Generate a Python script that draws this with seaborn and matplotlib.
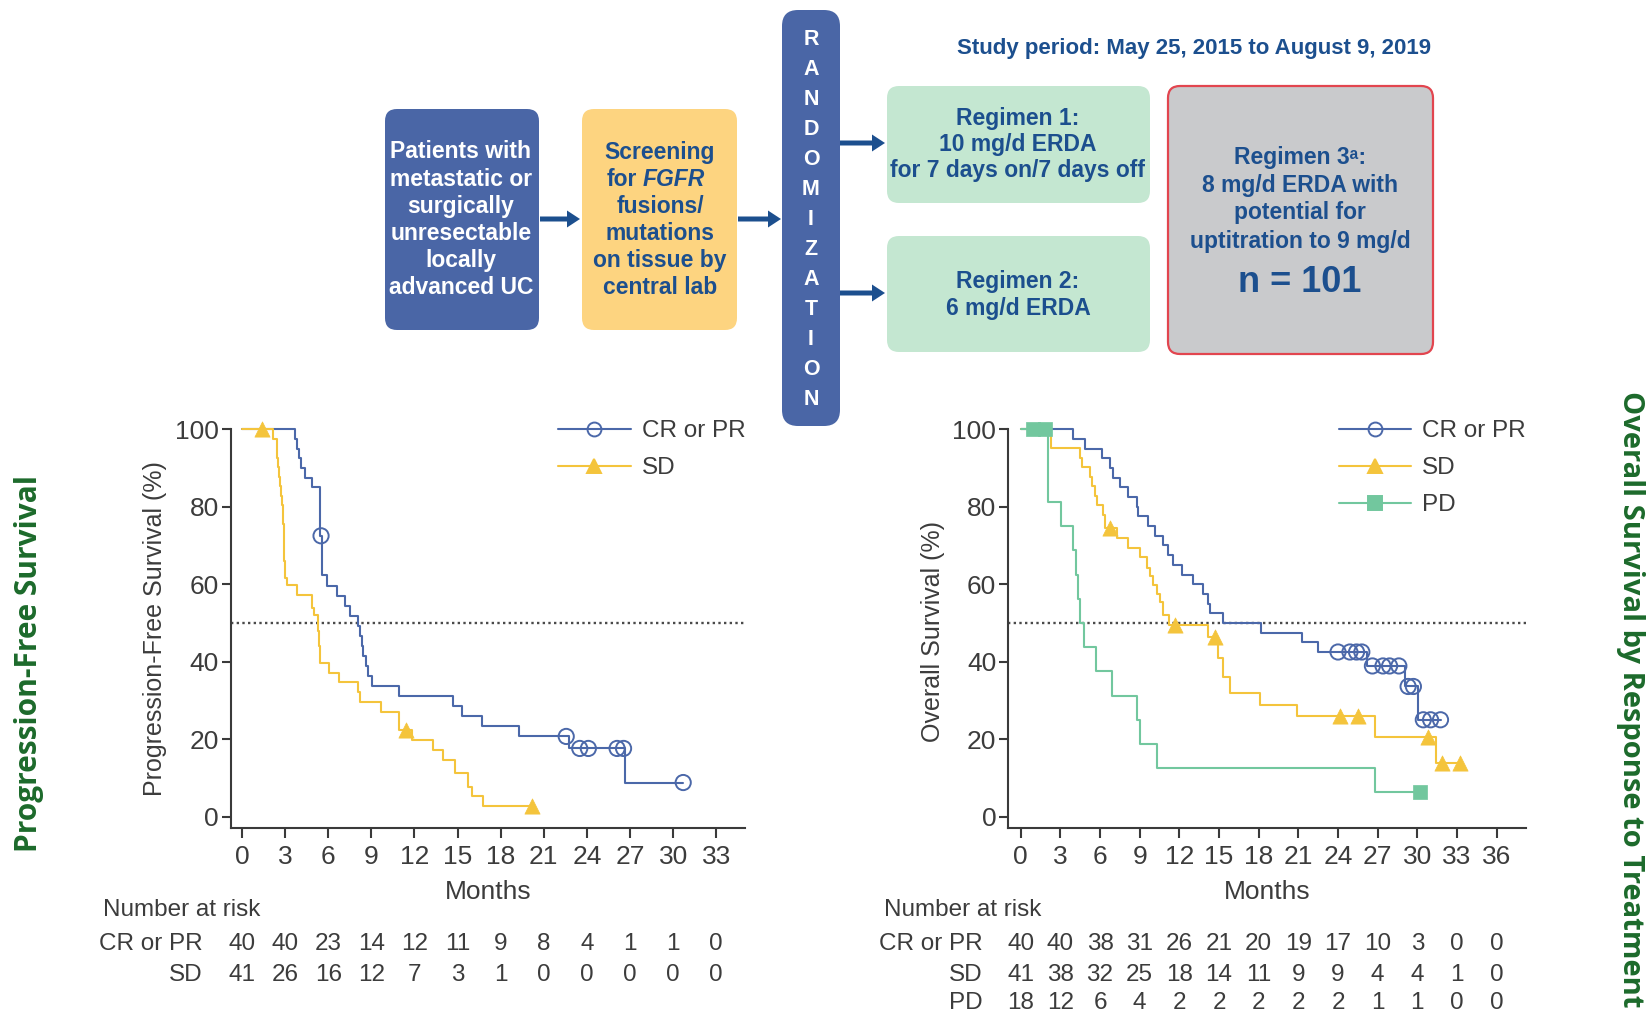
import numpy as np
import pandas as pd
import matplotlib
matplotlib.use("Agg")
import matplotlib.pyplot as plt
import seaborn as sns
import matplotlib.transforms as mtransforms
from matplotlib.patches import FancyBboxPatch, FancyArrow
from matplotlib.lines import Line2D

# ---------------- data ----------------
# PFS - CR or PR
pfs_cr_t = [0, 3.69, 3.85, 3.95, 4.1, 4.38, 4.85, 5.45, 5.55, 5.89, 6.58, 7.16, 7.51, 8.09, 8.2,
            8.32, 8.45, 8.6, 8.75, 9.08, 10.95, 14.7, 15.3, 16.7, 19.3, 22.77, 26.66, 30.7]
pfs_cr_s = [100, 97.5, 95, 92.5, 90, 87.5, 85, 72.5, 62.4, 59.6, 57.0, 54.4, 51.8, 49.2, 46.6,
            44.0, 41.4, 38.8, 36.2, 33.7, 31.1, 28.5, 25.9, 23.3, 20.7, 17.6, 8.8, 8.8]
pfs_cr_cens_t = [5.5, 22.56, 23.5, 24.1, 26.1, 26.55, 30.7]
pfs_cr_cens_s = [72.5, 20.7, 17.6, 17.6, 17.6, 17.6, 8.8]
# PFS - SD
pfs_sd_t = [0, 2.18, 2.41, 2.47, 2.53, 2.59, 2.65, 2.71, 2.77, 2.83, 2.89, 2.95, 3.0, 3.1, 3.8,
            4.85, 5.0, 5.31, 5.36, 5.42, 6.05, 6.77, 8.1, 8.2, 9.65, 10.95, 11.8, 13.26, 13.98,
            14.84, 15.7, 16.0, 16.8, 20.2]
pfs_sd_s = [100, 97.6, 95.1, 92.7, 90.2, 87.8, 85.4, 82.9, 80.5, 75.6, 70.7, 65.9, 61.5, 59.8, 57.2,
            53.8, 52.1, 48.0, 44.0, 39.6, 37.0, 34.7, 32.1, 29.6, 27.1, 22.4, 19.8, 17.2, 14.6,
            11.2, 7.7, 5.2, 2.7, 2.7]
pfs_sd_cens_t = [1.37, 11.4, 20.2]
pfs_sd_cens_s = [100, 22.4, 2.7]

# OS - CR or PR
os_cr_t = [0, 3.98, 4.86, 6.13, 6.75, 7.0, 7.51, 8.14, 8.77, 8.9, 9.65, 10.16, 10.79, 11.16, 11.54,
           12.18, 13.06, 13.8, 14.2, 14.32, 15.33, 18.2, 21.25, 22.5, 26.2, 29.07, 30.07, 31.75]
os_cr_s = [100, 97.5, 95, 92.5, 90, 87.5, 85, 82.5, 80, 77.5, 75, 72.5, 70, 67.5, 65,
           62.5, 60, 57.5, 55, 52.5, 50, 47.5, 45, 42.5, 38.9, 33.6, 25, 25]
os_cr_cens_t = [24.0, 24.9, 25.4, 25.8, 26.6, 27.4, 27.9, 28.6, 29.3, 29.7, 30.45, 31.0, 31.75]
os_cr_cens_s = [42.5, 42.5, 42.5, 42.5, 38.9, 38.9, 38.9, 38.9, 33.6, 33.6, 25, 25, 25]
# OS - SD
os_sd_t = [0, 2.3, 4.49, 4.61, 5.24, 5.37, 5.62, 5.75, 6.25, 6.38, 7.26, 8.14, 9.03, 9.55, 9.8,
           10.03, 10.3, 10.54, 10.8, 11.2, 14.2, 14.95, 15.3, 15.83, 18.1, 20.9, 26.8, 31.4, 33.2]
os_sd_s = [100, 95.1, 92.7, 90.2, 87.8, 85.4, 82.9, 80.5, 78.0, 74.4, 71.9, 69.3, 67.1, 64.1, 62.0,
           59.8, 57.5, 55.5, 52.1, 49.5, 46.5, 41.0, 36.0, 31.8, 28.8, 26.0, 20.6, 13.8, 13.8]
os_sd_cens_t = [6.76, 11.67, 14.7, 24.15, 25.5, 30.8, 31.9, 33.2]
os_sd_cens_s = [74.4, 49.5, 46.5, 26.0, 26.0, 20.6, 13.8, 13.8]
# OS - PD
os_pd_t = [0, 2.1, 3.05, 3.98, 4.15, 4.3, 4.45, 4.8, 5.7, 6.94, 8.77, 9.02, 10.29, 26.8, 30.2]
os_pd_s = [100, 81.25, 75, 68.75, 62.5, 56.25, 50, 43.75, 37.5, 31.25, 25, 18.75, 12.5, 6.25, 6.25]
os_pd_cens_t = [0.9, 1.85, 30.2]
os_pd_cens_s = [100, 100, 6.25]

# Number at risk
pfs_months = [0, 3, 6, 9, 12, 15, 18, 21, 24, 27, 30, 33]
pfs_risk_cr = [40, 40, 23, 14, 12, 11, 9, 8, 4, 1, 1, 0]
pfs_risk_sd = [41, 26, 16, 12, 7, 3, 1, 0, 0, 0, 0, 0]
os_months = [0, 3, 6, 9, 12, 15, 18, 21, 24, 27, 30, 33, 36]
os_risk_cr = [40, 40, 38, 31, 26, 21, 20, 19, 17, 10, 3, 0, 0]
os_risk_sd = [41, 38, 32, 25, 18, 14, 11, 9, 9, 4, 4, 1, 0]
os_risk_pd = [18, 12, 6, 4, 2, 2, 2, 2, 2, 1, 1, 0, 0]
y_ticks = [0, 20, 40, 60, 80, 100]

# ---------------- style ----------------
sns.set_theme(style="ticks")
plt.rcParams["font.family"] = ["Liberation Sans", "DejaVu Sans"]

BLUE = "#4b68a9"
YELLOW = "#f4c43c"
GREEN = "#72c79e"
AXC = "#3a3a3a"
TXT = "#3c3c3c"
DARKBLUE = "#1c4f8e"
SIDEGREEN = "#1c6a2b"

W, H = 1650, 1011
fig = plt.figure(figsize=(16.5, 10.11), dpi=100)

# ---------------- flowchart overlay (pixel coords) ----------------
ov = fig.add_axes([0, 0, 1, 1], zorder=0)
ov.set_xlim(0, W)
ov.set_ylim(H, 0)
ov.axis("off")


def rbox(x0, y0, x1, y1, fc, ec="none", lw=0, r=12):
    ov.add_patch(FancyBboxPatch((x0, y0), x1 - x0, y1 - y0,
                                boxstyle=f"round,pad=0,rounding_size={r}",
                                fc=fc, ec=ec, lw=lw))


def tlines(xc, ys, texts, **kw):
    for yy, tt in zip(ys, texts):
        ov.text(xc, yy, tt, ha="center", va="center", **kw)


def arrow(x0, x1, y):
    ov.add_patch(FancyArrow(x0, y, x1 - x0, 0, width=5, head_width=17, head_length=13,
                            length_includes_head=True, color=DARKBLUE, lw=0))


rbox(385, 109, 539, 330, "#4a66a6")
rbox(582, 109, 737, 330, "#fdd480")
rbox(782, 10, 840, 426, "#4a66a6", r=16)
rbox(887, 86, 1150, 203, "#c4e7d1")
rbox(887, 236, 1150, 352, "#c4e7d1")
rbox(1168, 86, 1433, 354, "#c9cacc", ec="#e2454f", lw=1.6)

arrow(540, 580, 219)
arrow(738, 781, 219)
arrow(840, 885, 143)
arrow(840, 885, 293)

box_fs = 16.5
line_y = [152, 179.5, 206.5, 233, 260.5, 287]
tlines(461, line_y, ["Patients with", "metastatic or", "surgically", "unresectable",
                     "locally", "advanced UC"], color="white", fontsize=box_fs, fontweight="bold")
tlines(660, [line_y[0]] + line_y[2:], ["Screening", "fusions/", "mutations", "on tissue by",
                                        "central lab"], color=DARKBLUE, fontsize=box_fs,
       fontweight="bold")
ov.text(637, line_y[1], "for", ha="right", va="center", color=DARKBLUE, fontsize=box_fs,
        fontweight="bold")
ov.text(643, line_y[1], "FGFR", ha="left", va="center", color=DARKBLUE, fontsize=box_fs,
        fontweight="bold", fontstyle="italic")

for i, ch in enumerate("RANDOMIZATION"):
    ov.text(811, 39.5 + i * 30.0, ch, ha="center", va="center", color="white", fontsize=15.5,
            fontweight="bold")

tlines(1018, [118.5, 145, 171], ["Regimen 1:", "10 mg/d ERDA", "for 7 days on/7 days off"],
       color=DARKBLUE, fontsize=box_fs, fontweight="bold")
tlines(1018, [281.5, 308.5], ["Regimen 2:", "6 mg/d ERDA"], color=DARKBLUE, fontsize=box_fs,
       fontweight="bold")
tlines(1300, [157.5, 185.5, 213, 241.5], ["Regimen 3\u1d43:", "8 mg/d ERDA with", "potential for",
                                          "uptitration to 9 mg/d"], color=DARKBLUE,
       fontsize=box_fs, fontweight="bold")
ov.text(1300, 283, "n = 101", ha="center", va="center", color=DARKBLUE, fontsize=26,
        fontweight="bold")
ov.text(1194, 48.5, "Study period: May 25, 2015 to August 9, 2019", ha="center", va="center",
        color=DARKBLUE, fontsize=16, fontweight="bold")

# side titles
fig.text(29.5 / W, 1 - 663 / H, "Progression-Free Survival", rotation=90, ha="center",
         va="center", fontsize=21.5, fontweight="bold", color=SIDEGREEN,
         family=["Open Sans", "DejaVu Sans"])
fig.text(1631 / W, 1 - 391 / H, "Overall Survival by Response to Treatment", rotation=270,
         ha="center", va="top", fontsize=21, fontweight="bold", color=SIDEGREEN,
         family=["Open Sans", "DejaVu Sans"])


# ---------------- KM panels ----------------
def make_ax(x0px, x1px):
    ax = fig.add_axes([x0px / W, 1 - 828 / H, (x1px - x0px) / W, (828 - 429.3) / H], zorder=2)
    ax.set_facecolor("none")
    return ax


def style_ax(ax, xlim, xticks):
    ax.set_xlim(*xlim)
    ax.set_ylim(-2.94, 100)
    ax.set_xticks(xticks)
    ax.set_yticks(y_ticks)
    sns.despine(ax=ax)
    for sp in ["left", "bottom"]:
        ax.spines[sp].set_linewidth(1.5)
        ax.spines[sp].set_color(AXC)
    ax.tick_params(axis="both", colors=AXC, labelcolor=TXT, labelsize=19, width=1.5)
    ax.tick_params(axis="x", length=7.5, pad=5)
    ax.tick_params(axis="y", length=6.5, pad=2)
    ax.set_xlabel("")
    ax.set_ylabel("")
    ax.axhline(50, color="#4a4a4a", lw=1.7, ls=(0, (1, 1.4)), zorder=1)


def km(ax, t, s, ct, cs, color, marker, hollow=False, ms=110):
    sns.lineplot(x=t, y=s, ax=ax, color=color, lw=1.5, drawstyle="steps-post",
                 estimator=None, sort=False, clip_on=False, zorder=3)
    if hollow:
        sns.scatterplot(x=ct, y=cs, ax=ax, marker=marker, s=ms, facecolor="none",
                        edgecolor=color, linewidth=1.4, clip_on=False, zorder=4)
    else:
        sns.scatterplot(x=ct, y=cs, ax=ax, marker=marker, s=ms, color=color,
                        edgecolor=color, linewidth=0.5, clip_on=False, zorder=4)


# Left: PFS
axL = make_ax(230.5, 745)
km(axL, pfs_cr_t, pfs_cr_s, pfs_cr_cens_t, pfs_cr_cens_s, BLUE, "o", hollow=True, ms=120)
km(axL, pfs_sd_t, pfs_sd_s, pfs_sd_cens_t, pfs_sd_cens_s, YELLOW, "^", ms=120)
style_ax(axL, (-0.8, 35.0), pfs_months)

# Right: OS
axR = make_ax(1008.1, 1525.8)
km(axR, os_cr_t, os_cr_s, os_cr_cens_t, os_cr_cens_s, BLUE, "o", hollow=True, ms=120)
km(axR, os_sd_t, os_sd_s, os_sd_cens_t, os_sd_cens_s, YELLOW, "^", ms=120)
km(axR, os_pd_t, os_pd_s, os_pd_cens_t, os_pd_cens_s, GREEN, "s", ms=110)
style_ax(axR, (-0.95, 38.2), os_months)


# legends
def handles(items):
    hs = []
    for c, m, hollow in items:
        hs.append(Line2D([], [], color=c, lw=1.5, marker=m, ms=10,
                         mfc="none" if hollow else c, mec=c, mew=1.4))
    return hs


for ax, items, labels, lx in [
    (axL, [(BLUE, "o", True), (YELLOW, "^", False)], ["CR or PR", "SD"], 557.7),
    (axR, [(BLUE, "o", True), (YELLOW, "^", False), (GREEN, "s", False)],
     ["CR or PR", "SD", "PD"], 1338.5),
]:
    leg = ax.legend(handles(items), labels, loc="upper left",
                    bbox_to_anchor=(lx / W, 1 - 420 / H), bbox_transform=fig.transFigure,
                    frameon=False, fontsize=17.5, handlelength=3.0, handletextpad=0.45,
                    labelspacing=0.62, borderpad=0, borderaxespad=0)
    for t in leg.get_texts():
        t.set_color(TXT)

# axis labels
fig.text(487.7 / W, 1 - 892 / H, "Months", ha="center", va="center", fontsize=19, color=TXT)
fig.text(1267 / W, 1 - 892 / H, "Months", ha="center", va="center", fontsize=19, color=TXT)
fig.text(154.7 / W, 1 - 629 / H, "Progression-Free Survival (%)", rotation=90, ha="center",
         va="center", fontsize=18, color=TXT)
fig.text(933 / W, 1 - 631 / H, "Overall Survival (%)", rotation=90, ha="center",
         va="center", fontsize=18, color=TXT)


# number at risk tables
def risk_table(ax, label_x_px, title_x_px, rows, months):
    tr = mtransforms.blended_transform_factory(ax.transData, fig.transFigure)
    fig.text(title_x_px / W, 1 - 910 / H, "Number at risk", ha="left", va="center",
             fontsize=17.5, color=TXT)
    for (lab, vals, ypx) in rows:
        fig.text(label_x_px / W, 1 - ypx / H, lab, ha="right", va="center", fontsize=17.5,
                 color=TXT)
        for m, v in zip(months, vals):
            ax.text(m, 1 - ypx / H, str(v), transform=tr, ha="center", va="center",
                    fontsize=17.5, color=TXT, clip_on=False)


risk_table(axL, 203, 103, [("CR or PR", pfs_risk_cr, 944), ("SD", pfs_risk_sd, 975)],
           pfs_months)
risk_table(axR, 983, 884, [("CR or PR", os_risk_cr, 944), ("SD", os_risk_sd, 975),
                           ("PD", os_risk_pd, 1003)], os_months)

fig.savefig("out.png", dpi=100, facecolor="white")
